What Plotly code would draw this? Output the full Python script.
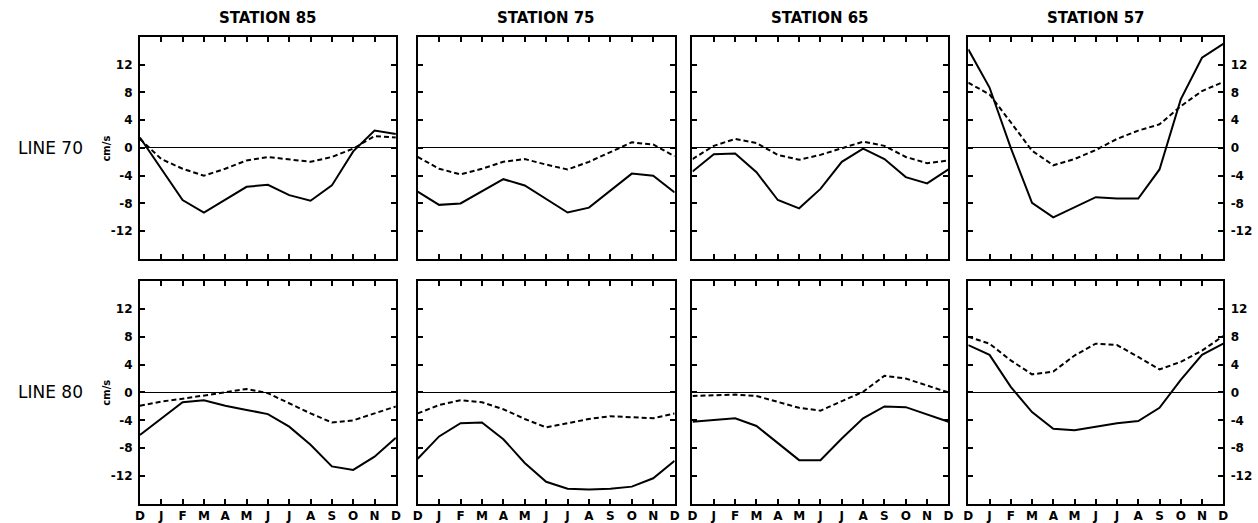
import plotly.graph_objects as go

months = ["D", "J", "F", "M", "A", "M", "J", "J", "A", "S", "O", "N", "D"]
stations = ["STATION 85", "STATION 75", "STATION 65", "STATION 57"]
line_labels = ["LINE 70", "LINE 80"]
y_ticks = [-12, -8, -4, 0, 4, 8, 12]
y_tick_text = ["-12", "-8", "-4", "0", "4", "8", "12"]

# LINE 70 (solid / dashed) for stations 85, 75, 65, 57
l70_s85_solid = [1.5, -3.0, -7.5, -9.3, -7.5, -5.6, -5.3, -6.8, -7.6, -5.4, -0.5, 2.5, 2.0]
l70_s85_dashed = [1.3, -1.6, -3.0, -4.0, -3.0, -1.8, -1.3, -1.7, -2.0, -1.3, -0.1, 1.7, 1.5]
l70_s75_solid = [-6.3, -8.2, -8.0, -6.2, -4.5, -5.4, -7.3, -9.3, -8.6, -6.1, -3.7, -4.0, -6.4]
l70_s75_dashed = [-1.3, -3.0, -3.8, -3.0, -2.0, -1.6, -2.4, -3.1, -2.0, -0.6, 0.8, 0.5, -1.2]
l70_s65_solid = [-3.4, -0.9, -0.8, -3.5, -7.5, -8.7, -5.9, -2.0, -0.1, -1.6, -4.2, -5.1, -3.1]
l70_s65_dashed = [-1.6, 0.3, 1.3, 0.7, -1.0, -1.7, -1.0, -0.1, 0.9, 0.3, -1.3, -2.2, -1.8]
l70_s57_solid = [14.2, 8.7, 0.0, -7.9, -10.0, -8.5, -7.1, -7.3, -7.3, -3.1, 7.0, 13.0, 15.0]
l70_s57_dashed = [9.4, 7.7, 3.7, -0.4, -2.5, -1.6, -0.3, 1.3, 2.5, 3.4, 6.0, 8.2, 9.5]

# LINE 80
l80_s85_solid = [-6.1, -3.7, -1.4, -1.1, -1.9, -2.5, -3.1, -4.9, -7.5, -10.6, -11.1, -9.2, -6.5]
l80_s85_dashed = [-1.9, -1.3, -0.9, -0.4, 0.1, 0.5, -0.1, -1.6, -3.0, -4.3, -4.0, -3.0, -2.0]
l80_s75_solid = [-9.5, -6.3, -4.4, -4.3, -6.7, -10.1, -12.8, -13.8, -13.9, -13.8, -13.5, -12.3, -9.8]
l80_s75_dashed = [-3.0, -1.8, -1.1, -1.4, -2.4, -3.8, -5.0, -4.4, -3.8, -3.4, -3.5, -3.7, -3.0]
l80_s65_solid = [-4.2, -4.0, -3.7, -4.8, -7.2, -9.7, -9.7, -6.6, -3.7, -2.0, -2.1, -3.1, -4.2]
l80_s65_dashed = [-0.5, -0.4, -0.3, -0.5, -1.3, -2.2, -2.6, -1.3, 0.1, 2.4, 2.0, 1.0, 0.0]
l80_s57_solid = [6.8, 5.4, 0.8, -2.8, -5.2, -5.4, -4.9, -4.4, -4.1, -2.2, 1.8, 5.4, 7.0]
l80_s57_dashed = [8.0, 7.0, 4.6, 2.6, 3.0, 5.3, 7.0, 6.8, 5.1, 3.3, 4.4, 6.0, 8.1]

panels = [
    [(l70_s85_solid, l70_s85_dashed), (l70_s75_solid, l70_s75_dashed),
     (l70_s65_solid, l70_s65_dashed), (l70_s57_solid, l70_s57_dashed)],
    [(l80_s85_solid, l80_s85_dashed), (l80_s75_solid, l80_s75_dashed),
     (l80_s65_solid, l80_s65_dashed), (l80_s57_solid, l80_s57_dashed)],
]

W, H = 1258, 523
col_px = [(136, 394), (416, 675), (693, 951), (971, 1228)]
row_px = [(37, 260), (282, 506)]

x_idx = list(range(len(months)))

fig = go.Figure()
layout = {}
tick_font = dict(family="DejaVu Sans", size=12, color="black", weight="bold")

n = 0
for r in range(2):
    for c in range(4):
        n += 1
        xa = "x" if n == 1 else f"x{n}"
        ya = "y" if n == 1 else f"y{n}"
        solid, dashed = panels[r][c]
        fig.add_trace(go.Scatter(x=x_idx, y=solid, mode="lines", xaxis=xa, yaxis=ya,
                                 line=dict(color="black", width=2), showlegend=False,
                                 hoverinfo="skip"))
        fig.add_trace(go.Scatter(x=x_idx, y=dashed, mode="lines", xaxis=xa, yaxis=ya,
                                 line=dict(color="black", width=2, dash="5px,3px"),
                                 showlegend=False, hoverinfo="skip"))
        x0, x1 = col_px[c]
        y0, y1 = row_px[r]
        layout[f"xaxis{'' if n == 1 else n}"] = dict(
            domain=[x0 / W, x1 / W], anchor=ya, range=[0, 12],
            tickvals=x_idx, ticktext=months, showticklabels=(r == 1),
            ticks="inside", ticklen=5, tickwidth=1.5, tickcolor="black",
            showline=True, linewidth=2, linecolor="black", mirror="ticks",
            showgrid=False, zeroline=False, tickfont=tick_font, fixedrange=True,
        )
        layout[f"yaxis{'' if n == 1 else n}"] = dict(
            domain=[1 - y1 / H, 1 - y0 / H], anchor=xa, range=[-16, 16],
            tickvals=y_ticks, ticktext=y_tick_text,
            showticklabels=(c == 0 or c == 3), side=("right" if c == 3 else "left"),
            ticks="inside", ticklen=5, tickwidth=1.5, tickcolor="black",
            showline=True, linewidth=2, linecolor="black", mirror="ticks",
            showgrid=False, zeroline=True, zerolinecolor="black", zerolinewidth=1.2,
            tickfont=tick_font, fixedrange=True, ticklabelstandoff=3,
        )

annotations = []
for c, name in enumerate(stations):
    x0, x1 = col_px[c]
    annotations.append(dict(text=name, x=(x0 + x1) / 2 / W, y=1 - 18 / H,
                            xref="paper", yref="paper", showarrow=False,
                            xanchor="center", yanchor="middle",
                            font=dict(family="DejaVu Sans", size=15, color="black", weight="bold")))
for r, name in enumerate(line_labels):
    yc = 149 if r == 0 else 394
    annotations.append(dict(text=name, x=46 / W, y=1 - yc / H, xref="paper", yref="paper",
                            showarrow=False, xanchor="center", yanchor="middle",
                            font=dict(family="DejaVu Sans", size=17, color="black")))
    annotations.append(dict(text="cm/s", x=102 / W, y=1 - yc / H, xref="paper", yref="paper",
                            showarrow=False, textangle=-90, xanchor="center", yanchor="middle",
                            font=dict(family="DejaVu Sans", size=10, color="black", weight="bold")))

fig.update_layout(
    width=W, height=H, margin=dict(l=0, r=0, t=0, b=0),
    paper_bgcolor="white", plot_bgcolor="white",
    annotations=annotations, **layout,
)

fig.write_html("out.html")
